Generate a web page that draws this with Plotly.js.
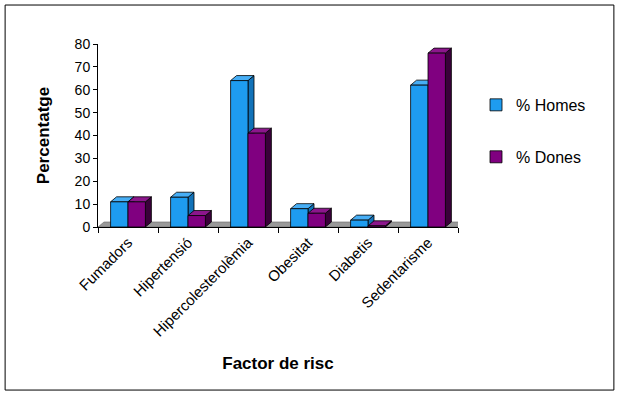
<!DOCTYPE html>
<html><head><meta charset="utf-8">
<script src="https://cdn.plot.ly/plotly-3.0.1.min.js"></script>
<style>body{margin:0;background:#fff}</style>
</head><body>
<div id="chart" style="width:620px;height:396px"></div>
<script>
var categories = ["Fumadors", "Hipertensió", "Hipercolesterolèmia", "Obesitat", "Diabetis", "Sedentarisme"];
var homes = [11, 13, 64, 8, 3, 62];
var dones = [11, 5, 41, 6, 0.5, 76];
var seriesNames = ["% Homes", "% Dones"];

var BW = 0.29, DX = 0.1, DY = 2.2;
var front = ["#1e9cf0", "#800080"], topC = ["#47aef5", "#8c168c"], sideC = ["#1272b8", "#3a003a"];

var shapes = [];
// floor
shapes.push({type:"path", xref:"x", yref:"y", layer:"below",
  path:"M -0.5,0 L 5.5,0 L " + (5.5+DX) + "," + DY + " L " + (-0.5+DX) + "," + DY + " Z",
  fillcolor:"#999", line:{color:"#666", width:0.6}});
[homes, dones].forEach(function(vals, s){
  vals.forEach(function(v, i){
    var xl = i + (s === 0 ? -BW : 0), xr = xl + BW;
    shapes.push({type:"path", xref:"x", yref:"y", layer:"below",
      path:"M "+xr+",0 L "+(xr+DX)+","+DY+" L "+(xr+DX)+","+(v+DY)+" L "+xr+","+v+" Z",
      fillcolor:sideC[s], line:{color:"#000", width:0.8}});
    shapes.push({type:"path", xref:"x", yref:"y", layer:"below",
      path:"M "+xl+","+v+" L "+(xl+DX)+","+(v+DY)+" L "+(xr+DX)+","+(v+DY)+" L "+xr+","+v+" Z",
      fillcolor:topC[s], line:{color:"#000", width:0.8}});
  });
});
// outer frame
shapes.push({type:"rect", xref:"paper", yref:"paper", x0:-0.258, x1:1.433, y0:-0.891, y1:1.213,
  line:{color:"#000", width:1}, fillcolor:"rgba(0,0,0,0)"});

var traces = [
  {type:"bar", x:categories, y:homes, name:seriesNames[0], width:BW, offset:-BW,
   marker:{color:front[0], line:{color:"#000", width:0.8}}, legend:"legend"},
  {type:"bar", x:categories, y:dones, name:seriesNames[1], width:BW, offset:0,
   marker:{color:front[1], line:{color:"#000", width:0.8}}, legend:"legend2"}
];

var layout = {
  width:620, height:396,
  margin:{l:98, r:162, t:44, b:169},
  paper_bgcolor:"#fff", plot_bgcolor:"#fff",
  font:{family:"Liberation Sans, Arial, sans-serif", color:"#000"},
  showlegend:true,
  xaxis:{type:"category", range:[-0.5,5.5], showline:true, linecolor:"#000", linewidth:1,
    ticks:"outside", tickson:"boundaries", ticklen:5, tickcolor:"#000", tickangle:-45,
    tickfont:{size:15}, showgrid:false, zeroline:false,
    title:{text:"<b>Factor de risc</b>", font:{size:17}, standoff:18}},
  yaxis:{range:[0,80], dtick:10, showline:true, linecolor:"#000", linewidth:1,
    ticks:"outside", ticklen:4, tickcolor:"#000", tickfont:{size:14},
    showgrid:false, zeroline:false,
    title:{text:"<b>Percentatge</b>", font:{size:17}, standoff:20}},
  legend:{x:1.05, y:0.667, xanchor:"left", yanchor:"middle", font:{size:16},
    bgcolor:"rgba(0,0,0,0)"},
  legend2:{x:1.05, y:0.383, xanchor:"left", yanchor:"middle", font:{size:16},
    bgcolor:"rgba(0,0,0,0)"},
  shapes:shapes
};
Plotly.newPlot("chart", traces, layout, {displayModeBar:false, staticPlot:true});
</script>
</body></html>
